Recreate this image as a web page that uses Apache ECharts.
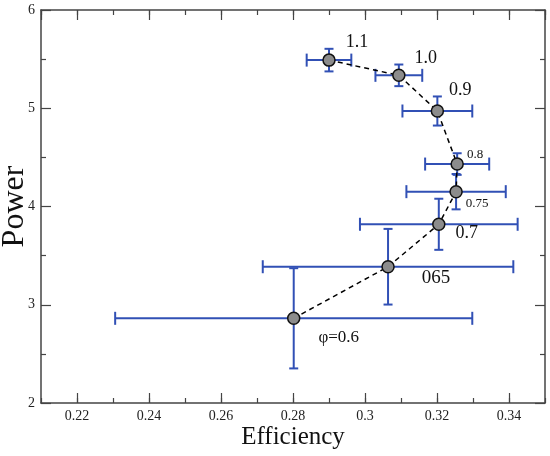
<!DOCTYPE html>
<html>
<head>
<meta charset="utf-8">
<script src="https://cdn.jsdelivr.net/npm/echarts@6/dist/echarts.min.js"></script>
<style>
  html, body { margin: 0; padding: 0; background: #fff; }
  #chart { width: 550px; height: 456px; }
</style>
</head>
<body>
<div id="chart"></div>
<script>
// values, ordered along the dashed curve
const phiLabels = ['1.1', '1.0', '0.9', '0.8', '0.75', '0.7', '065', 'φ=0.6']
const efficiency = [0.2900, 0.3094, 0.3201, 0.3256, 0.3253, 0.3205, 0.3064, 0.2802]
const power = [5.49, 5.335, 4.972, 4.432, 4.151, 3.819, 3.387, 2.862]
const efficiencyErr = [0.0062, 0.0065, 0.0097, 0.0089, 0.0138, 0.0219, 0.0348, 0.0496]
const powerErr = [0.115, 0.11, 0.148, 0.11, 0.18, 0.26, 0.385, 0.51]

// label placement (text centre relative to the marker) and size
const labelOffsets = [[28, -18], [27, -17], [23, -21], [18, -9], [21, 12], [28, 9], [48, 11], [45, 19]]
const labelSizes = [18, 18, 18, 13, 13, 18, 19, 17]

const FONT = '"Liberation Serif", "DejaVu Serif", serif'
const AXIS_COLOR = '#444'
const BAR_COLOR = '#3150b5'

const chart = echarts.init(document.getElementById('chart'))

// 主刻度轴 + 次刻度轴（上下各一组），镜像成方框
function xAxisPair(position, withLabels) {
  return [
    {
      type: 'value', position, min: 0.21, max: 0.35, splitNumber: 7,
      axisLine: { show: true, onZero: false, lineStyle: { color: AXIS_COLOR, width: 1.5 } },
      axisTick: { show: true, inside: true, length: 10, lineStyle: { color: AXIS_COLOR, width: 1.2 } },
      axisLabel: {
        show: withLabels, showMinLabel: false, showMaxLabel: false, margin: 6,
        fontFamily: FONT, fontSize: 14, color: '#222'
      },
      splitLine: { show: false },
      name: withLabels ? 'Efficiency' : '',
      nameLocation: 'middle', nameGap: 22, nameMoveOverlap: false,
      nameTextStyle: { fontFamily: FONT, fontSize: 25, color: '#111' }
    },
    {
      type: 'value', position, min: 0.21, max: 0.35, interval: 0.01,
      axisLine: { show: false, onZero: false },
      axisTick: { show: true, inside: true, length: 5, lineStyle: { color: AXIS_COLOR, width: 1.2 } },
      axisLabel: { show: false },
      splitLine: { show: false }
    }
  ]
}

function yAxis(position, withLabels) {
  return {
    type: 'value', position, min: 2, max: 6, interval: 1,
    axisLine: { show: true, onZero: false, lineStyle: { color: AXIS_COLOR, width: 1.5 } },
    axisTick: { show: true, inside: true, length: 10, lineStyle: { color: AXIS_COLOR, width: 1.2 } },
    minorTick: { show: true, splitNumber: 2, length: 5, lineStyle: { color: AXIS_COLOR, width: 1.2 } },
    axisLabel: { show: withLabels, margin: 6, fontFamily: FONT, fontSize: 14, color: '#222' },
    splitLine: { show: false },
    minorSplitLine: { show: false },
    name: withLabels ? 'Power' : '',
    nameLocation: 'middle', nameGap: 10, nameMoveOverlap: false,
    nameTextStyle: { fontFamily: FONT, fontSize: 32, color: '#111' }
  }
}

const points = efficiency.map((x, i) => [x, power[i]])
const errData = efficiency.map((x, i) => [x, power[i], efficiencyErr[i], powerErr[i]])

function renderErrorBar(params, api) {
  const x = api.value(0)
  const y = api.value(1)
  const ex = api.value(2)
  const ey = api.value(3)
  const left = api.coord([x - ex, y])
  const right = api.coord([x + ex, y])
  const top = api.coord([x, y + ey])
  const bottom = api.coord([x, y - ey])
  const hCap = 6.5
  const vCap = 4.5
  const style = { stroke: BAR_COLOR, lineWidth: 2, fill: null }
  const seg = (x1, y1, x2, y2) => ({ type: 'line', shape: { x1, y1, x2, y2 }, style })
  return {
    type: 'group',
    children: [
      seg(left[0], left[1], right[0], right[1]),
      seg(left[0], left[1] - hCap, left[0], left[1] + hCap),
      seg(right[0], right[1] - hCap, right[0], right[1] + hCap),
      seg(top[0], top[1], bottom[0], bottom[1]),
      seg(top[0] - vCap, top[1], top[0] + vCap, top[1]),
      seg(bottom[0] - vCap, bottom[1], bottom[0] + vCap, bottom[1])
    ]
  }
}

const option = {
  animation: false,
  backgroundColor: '#fff',
  grid: { left: 41, right: 5, top: 10, bottom: 53, containLabel: false, outerBoundsMode: 'none' },
  xAxis: [...xAxisPair('bottom', true), ...xAxisPair('top', false)],
  yAxis: [yAxis('left', true), yAxis('right', false)],
  series: [
    {
      type: 'custom',
      xAxisIndex: 0, yAxisIndex: 0,
      renderItem: renderErrorBar,
      data: errData,
      z: 2
    },
    {
      type: 'line',
      xAxisIndex: 0, yAxisIndex: 0,
      data: points.map((p, i) => ({
        value: p,
        label: {
          formatter: phiLabels[i],
          offset: labelOffsets[i],
          fontSize: labelSizes[i]
        }
      })),
      lineStyle: { color: '#000', width: 1.5, type: [5, 4] },
      symbol: 'circle',
      symbolSize: 12,
      itemStyle: { color: '#8c8c8c', borderColor: '#111', borderWidth: 1.5 },
      label: {
        show: true, position: 'inside', align: 'center', verticalAlign: 'middle',
        fontFamily: FONT, color: '#111'
      },
      z: 3
    }
  ]
}

chart.setOption(option)
</script>
</body>
</html>
